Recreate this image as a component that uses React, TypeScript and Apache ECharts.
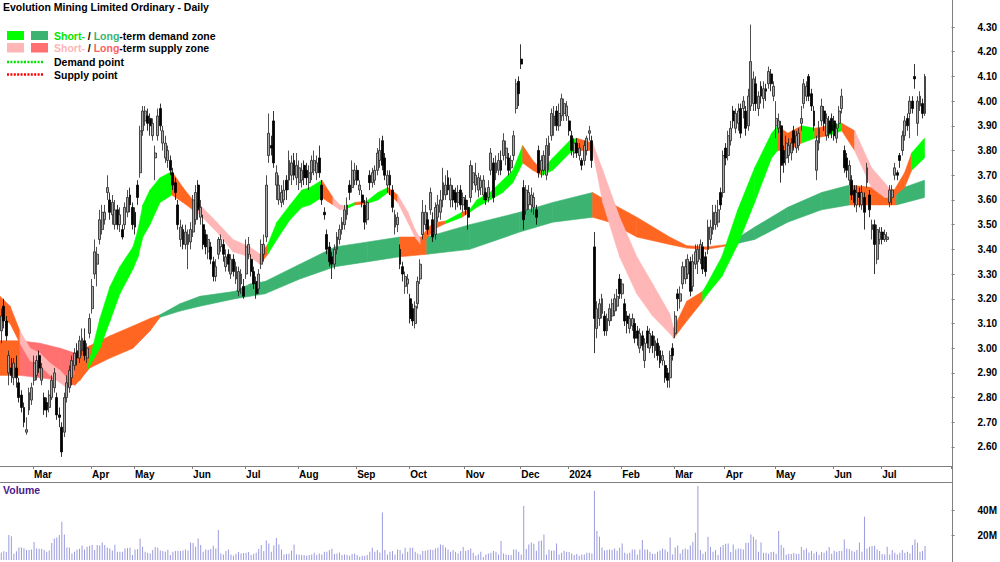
import React, { useEffect, useRef } from 'react';
import * as echarts from 'echarts';

// ---------- categories ----------
const monthNames = ['Feb', 'Mar', 'Apr', 'May', 'Jun', 'Jul', 'Aug', 'Sep', 'Oct', 'Nov', 'Dec', 'Jan', 'Feb', 'Mar', 'Apr', 'May', 'Jun', 'Jul'];
const monthYears = [2023, 2023, 2023, 2023, 2023, 2023, 2023, 2023, 2023, 2023, 2023, 2024, 2024, 2024, 2024, 2024, 2024, 2024];
const monthTradingDays = [13, 23, 17, 23, 21, 21, 23, 21, 22, 22, 19, 21, 21, 20, 20, 23, 19, 18];
const monthTickLabels = ['', 'Mar', 'Apr', 'May', 'Jun', 'Jul', 'Aug', 'Sep', 'Oct', 'Nov', 'Dec', '2024', 'Feb', 'Mar', 'Apr', 'May', 'Jun', 'Jul'];
const EMPTY_SLOTS = 10;

// ---------- axis ranges / tick labels ----------
const PRICE_MIN = 2.5;
const PRICE_MAX = 4.4;
const priceTicks = [2.6, 2.7, 2.8, 2.9, 3.0, 3.1, 3.2, 3.3, 3.4, 3.5, 3.6, 3.7, 3.8, 3.9, 4.0, 4.1, 4.2, 4.3];
const VOLUME_MAX = 60;
const volumeTicks = [20, 40];

// ---------- daily OHLC [open, close, low, high] ----------
const ohlc = [
  [3.07,3.13,3.02,3.16],[3.17,3.11,3.08,3.20],[3.11,3.05,3.03,3.13],[2.90,2.97,2.85,2.99],[2.92,2.89,2.86,2.96],
  [2.88,2.94,2.85,2.96],[2.92,2.88,2.84,2.97],[2.86,2.80,2.78,2.88],[2.81,2.76,2.74,2.83],[2.76,2.70,2.68,2.78],
  [2.66,2.67,2.65,2.72],[2.75,2.82,2.73,2.84],[2.79,2.84,2.77,2.86],[2.87,2.94,2.85,2.97],[2.89,2.95,2.87,2.97],
  [2.97,2.92,2.90,2.99],[2.87,2.92,2.85,2.94],[2.80,2.75,2.73,2.82],[2.78,2.75,2.72,2.80],[2.76,2.81,2.74,2.83],
  [2.80,2.87,2.79,2.89],[2.84,2.90,2.82,2.92],[2.80,2.73,2.71,2.82],[2.73,2.72,2.68,2.76],[2.68,2.58,2.56,2.70],
  [2.66,2.80,2.64,2.82],[2.80,2.86,2.78,2.89],[2.84,2.91,2.82,2.93],[2.88,2.95,2.85,2.97],[2.93,2.98,2.91,3.00],
  [2.99,2.96,2.93,3.02],[2.96,3.03,2.94,3.05],[2.99,3.04,2.97,3.08],[3.03,2.97,2.95,3.08],[2.96,3.00,2.94,3.02],
  [3.06,3.12,3.04,3.14],[3.16,3.25,3.14,3.28],[3.30,3.39,3.28,3.44],[3.34,3.38,3.25,3.41],[3.44,3.52,3.42,3.56],
  [3.48,3.55,3.46,3.58],[3.52,3.55,3.50,3.58],[3.63,3.65,3.60,3.70],[3.60,3.55,3.52,3.63],[3.54,3.59,3.50,3.62],
  [3.50,3.56,3.48,3.60],[3.56,3.50,3.48,3.58],[3.50,3.54,3.47,3.57],[3.48,3.45,3.44,3.50],[3.50,3.57,3.48,3.59],
  [3.55,3.61,3.53,3.64],[3.62,3.58,3.55,3.65],[3.57,3.50,3.48,3.59],[3.55,3.49,3.46,3.57],[3.66,3.61,3.58,3.68],
  [3.71,3.88,3.69,3.90],[3.88,3.96,3.86,3.98],[3.92,3.96,3.90,3.98],[3.94,3.91,3.88,3.97],[3.93,3.90,3.86,3.95],
  [3.86,3.91,3.84,3.93],[3.77,3.79,3.68,3.82],[3.86,3.94,3.84,3.97],[3.97,3.90,3.88,3.99],[3.83,3.88,3.80,3.90],
  [3.77,3.83,3.75,3.86],[3.76,3.80,3.73,3.82],[3.76,3.72,3.70,3.78],[3.71,3.66,3.64,3.73],[3.67,3.63,3.60,3.69],
  [3.58,3.50,3.48,3.60],[3.44,3.49,3.41,3.52],[3.48,3.42,3.40,3.50],[3.42,3.47,3.40,3.50],[3.42,3.46,3.32,3.48],
  [3.43,3.48,3.40,3.51],[3.47,3.60,3.45,3.62],[3.52,3.63,3.50,3.66],[3.66,3.56,3.52,3.68],[3.53,3.57,3.50,3.60],
  [3.50,3.42,3.40,3.54],[3.46,3.41,3.38,3.48],[3.39,3.44,3.36,3.46],[3.41,3.36,3.34,3.43],[3.35,3.29,3.27,3.37],
  [3.29,3.33,3.27,3.36],[3.38,3.44,3.36,3.45],[3.41,3.44,3.39,3.46],[3.42,3.38,3.35,3.44],[3.33,3.37,3.31,3.40],
  [3.38,3.34,3.31,3.40],[3.30,3.36,3.28,3.38],[3.36,3.31,3.29,3.38],[3.28,3.33,3.26,3.35],[3.23,3.31,3.21,3.33],
  [3.26,3.30,3.22,3.32],[3.25,3.21,3.20,3.28],[3.30,3.41,3.28,3.44],[3.38,3.42,3.36,3.45],[3.36,3.31,3.29,3.38],
  [3.31,3.26,3.24,3.33],[3.27,3.22,3.20,3.29],[3.24,3.30,3.22,3.32],[3.34,3.42,3.32,3.44],[3.38,3.42,3.35,3.46],
  [3.45,3.66,3.43,3.70],[3.78,3.87,3.75,3.95],[3.82,3.81,3.78,3.86],[3.92,3.75,3.73,3.96],[3.66,3.71,3.60,3.74],
  [3.60,3.66,3.58,3.70],[3.59,3.63,3.57,3.66],[3.60,3.64,3.58,3.68],[3.68,3.64,3.60,3.70],[3.68,3.76,3.64,3.80],
  [3.70,3.75,3.66,3.78],[3.76,3.70,3.68,3.79],[3.69,3.74,3.66,3.79],[3.67,3.73,3.64,3.76],[3.68,3.72,3.65,3.75],
  [3.74,3.69,3.66,3.76],[3.72,3.69,3.66,3.75],[3.67,3.71,3.64,3.74],[3.71,3.76,3.68,3.78],[3.72,3.76,3.70,3.80],
  [3.71,3.75,3.68,3.78],[3.77,3.71,3.69,3.82],[3.66,3.60,3.58,3.68],[3.55,3.54,3.52,3.57],[3.46,3.40,3.38,3.48],
  [3.41,3.35,3.33,3.43],[3.37,3.34,3.28,3.39],[3.34,3.40,3.32,3.42],[3.40,3.45,3.38,3.47],[3.44,3.48,3.42,3.50],
  [3.48,3.51,3.46,3.53],[3.50,3.56,3.48,3.58],[3.54,3.58,3.52,3.61],[3.66,3.63,3.60,3.68],[3.65,3.72,3.63,3.76],
  [3.68,3.72,3.66,3.75],[3.72,3.68,3.66,3.74],[3.64,3.66,3.62,3.68],[3.62,3.59,3.57,3.64],[3.58,3.51,3.48,3.60],
  [3.52,3.59,3.50,3.61],[3.70,3.67,3.64,3.72],[3.67,3.71,3.65,3.73],[3.68,3.72,3.66,3.74],[3.72,3.79,3.70,3.81],
  [3.76,3.80,3.73,3.85],[3.84,3.74,3.72,3.86],[3.77,3.70,3.68,3.79],[3.66,3.70,3.63,3.72],[3.70,3.66,3.62,3.72],
  [3.64,3.57,3.55,3.66],[3.49,3.54,3.46,3.56],[3.50,3.53,3.47,3.55],[3.40,3.34,3.32,3.42],[3.33,3.30,3.27,3.35],
  [3.25,3.29,3.22,3.31],[3.26,3.28,3.22,3.30],[3.20,3.12,3.10,3.22],[3.16,3.11,3.09,3.18],[3.10,3.17,3.08,3.19],
  [3.18,3.27,3.16,3.29],[3.28,3.34,3.26,3.36],[3.46,3.55,3.44,3.60],[3.50,3.55,3.48,3.58],[3.52,3.48,3.46,3.55],
  [3.56,3.63,3.54,3.65],[3.52,3.45,3.43,3.55],[3.46,3.57,3.44,3.59],[3.53,3.58,3.51,3.62],[3.55,3.60,3.52,3.64],
  [3.60,3.67,3.57,3.73],[3.62,3.66,3.60,3.70],[3.69,3.64,3.62,3.72],[3.60,3.66,3.57,3.69],[3.64,3.60,3.57,3.66],
  [3.63,3.59,3.56,3.65],[3.59,3.63,3.57,3.66],[3.64,3.58,3.56,3.66],[3.58,3.61,3.55,3.63],[3.60,3.56,3.54,3.62],
  [3.57,3.53,3.48,3.60],[3.61,3.74,3.59,3.76],[3.67,3.71,3.64,3.74],[3.66,3.70,3.63,3.75],[3.64,3.69,3.61,3.71],
  [3.65,3.68,3.62,3.70],[3.62,3.68,3.60,3.70],[3.63,3.60,3.58,3.65],[3.61,3.65,3.59,3.68],[3.72,3.79,3.70,3.81],
  [3.75,3.61,3.59,3.77],[3.71,3.75,3.68,3.78],[3.72,3.76,3.70,3.79],[3.76,3.72,3.70,3.80],[3.78,3.84,3.76,3.87],
  [3.77,3.81,3.74,3.84],[3.77,3.72,3.70,3.79],[3.73,3.76,3.71,3.78],[3.78,3.86,3.76,3.88],[3.97,4.07,3.95,4.09],
  [4.08,4.03,3.98,4.10],[4.17,4.15,4.13,4.23],[3.65,3.52,3.48,3.68],[3.56,3.64,3.54,3.66],[3.58,3.63,3.56,3.66],
  [3.58,3.62,3.55,3.65],[3.57,3.61,3.54,3.63],[3.56,3.53,3.50,3.58],[3.80,3.71,3.69,3.82],[3.72,3.76,3.69,3.78],
  [3.72,3.78,3.70,3.80],[3.70,3.82,3.68,3.85],[3.78,3.83,3.72,3.86],[3.86,3.95,3.84,3.97],[3.90,3.94,3.86,3.98],
  [3.96,3.90,3.88,3.98],[3.90,3.95,3.88,3.99],[3.94,4.01,3.92,4.03],[3.95,3.99,3.92,4.01],[3.94,3.98,3.92,4.00],
  [3.92,3.88,3.86,3.94],[3.86,3.80,3.78,3.88],[3.79,3.83,3.77,3.85],[3.83,3.79,3.77,3.85],[3.78,3.81,3.76,3.83],
  [3.76,3.74,3.72,3.77],[3.76,3.82,3.74,3.84],[3.80,3.85,3.78,3.86],[3.87,3.88,3.84,3.90],[3.84,3.76,3.73,3.86],
  [3.41,3.12,2.98,3.47],[3.08,3.16,3.04,3.19],[3.12,3.18,3.09,3.20],[3.14,3.20,3.12,3.22],[3.13,3.07,3.05,3.15],
  [3.07,3.12,3.05,3.14],[3.11,3.16,3.09,3.18],[3.13,3.18,3.11,3.20],[3.15,3.20,3.13,3.22],[3.17,3.21,3.15,3.24],
  [3.28,3.22,3.20,3.30],[3.22,3.26,3.20,3.28],[3.18,3.11,3.09,3.20],[3.13,3.10,3.06,3.15],[3.08,3.12,3.06,3.14],
  [3.09,3.12,3.07,3.14],[3.10,3.04,3.02,3.12],[3.07,3.04,3.01,3.09],[3.00,3.06,2.98,3.08],[3.05,3.01,2.99,3.07],
  [2.95,3.02,2.92,3.04],[3.07,3.02,3.00,3.09],[3.00,3.06,2.98,3.08],[3.05,3.01,2.98,3.07],[2.99,3.03,2.96,3.05],
  [3.02,2.97,2.95,3.04],[2.99,2.94,2.92,3.01],[2.95,2.97,2.93,2.99],[2.93,2.88,2.86,2.95],[2.90,2.87,2.84,2.92],
  [2.88,2.97,2.84,2.99],[3.00,2.97,2.95,3.02],[3.06,3.13,3.04,3.15],[3.22,3.20,3.15,3.24],[3.19,3.22,3.16,3.25],
  [3.26,3.33,3.24,3.35],[3.28,3.33,3.26,3.36],[3.30,3.36,3.28,3.38],[3.35,3.23,3.21,3.37],[3.25,3.35,3.23,3.38],
  [3.34,3.39,3.32,3.42],[3.35,3.40,3.30,3.42],[3.36,3.42,3.34,3.44],[3.41,3.32,3.30,3.43],[3.37,3.31,3.29,3.39],
  [3.40,3.49,3.38,3.52],[3.44,3.49,3.42,3.52],[3.48,3.55,3.46,3.58],[3.50,3.55,3.48,3.58],[3.51,3.56,3.49,3.60],
  [3.63,3.58,3.56,3.65],[3.63,3.78,3.61,3.80],[3.81,3.77,3.74,3.83],[3.78,3.86,3.76,3.88],[3.84,3.89,3.82,3.92],
  [3.96,3.92,3.89,3.98],[3.89,3.95,3.87,3.97],[3.91,3.96,3.88,3.99],[3.97,3.87,3.85,3.99],[3.97,4.00,3.93,4.02],
  [3.96,3.89,3.86,3.98],[3.90,4.02,3.88,4.05],[3.98,4.16,3.96,4.31],[3.99,4.09,3.96,4.12],[4.07,3.99,3.96,4.10],
  [3.97,4.02,3.94,4.04],[4.06,4.02,3.99,4.08],[4.01,4.05,3.97,4.08],[4.05,4.04,4.00,4.07],[4.07,4.12,4.05,4.14],
  [4.11,4.07,4.04,4.13],[4.02,4.06,4.00,4.08],[3.90,3.93,3.85,4.00],[3.89,3.92,3.87,3.95],[3.90,3.74,3.67,3.92],
  [3.80,3.75,3.71,3.82],[3.77,3.83,3.74,3.86],[3.78,3.82,3.75,3.85],[3.79,3.83,3.76,3.85],[3.88,3.83,3.80,3.90],
  [3.81,3.86,3.79,3.88],[3.82,3.87,3.80,3.89],[3.91,3.93,3.88,3.98],[3.99,4.07,3.97,4.09],[4.02,4.06,4.00,4.08],
  [4.10,4.02,4.00,4.11],[4.03,3.98,3.96,4.05],[3.96,3.90,3.88,3.98],[3.72,3.84,3.68,3.86],[3.83,3.89,3.80,3.92],
  [3.92,3.98,3.90,4.01],[3.96,3.91,3.88,3.98],[3.86,3.93,3.84,3.95],[3.92,3.87,3.85,3.94],[3.93,3.88,3.85,3.95],
  [3.92,3.86,3.84,3.94],[3.85,3.89,3.83,3.91],[3.91,3.96,3.89,3.98],[3.97,4.02,3.95,4.05],[3.80,3.73,3.71,3.82],
  [3.77,3.72,3.69,3.79],[3.68,3.74,3.66,3.76],[3.68,3.62,3.60,3.70],[3.64,3.59,3.57,3.66],[3.58,3.63,3.55,3.66],
  [3.63,3.61,3.57,3.65],[3.58,3.63,3.56,3.66],[3.61,3.55,3.48,3.63],[3.67,3.73,3.65,3.75],[3.62,3.56,3.53,3.64],
  [3.48,3.50,3.44,3.52],[3.50,3.42,3.30,3.52],[3.36,3.48,3.34,3.50],[3.44,3.47,3.42,3.49],[3.47,3.44,3.42,3.49],
  [3.44,3.46,3.43,3.48],[3.44,3.45,3.43,3.47],[3.59,3.64,3.57,3.66],[3.61,3.64,3.58,3.66],[3.70,3.73,3.68,3.75],
  [3.71,3.70,3.68,3.72],[3.78,3.76,3.73,3.79],[3.80,3.86,3.78,3.88],[3.86,3.92,3.84,3.94],[3.93,3.90,3.88,3.95],
  [3.95,4.00,3.85,4.02],[4.00,3.97,3.95,4.02],[4.10,4.09,4.05,4.15],[3.91,4.00,3.86,4.02],[3.98,4.02,3.96,4.04],
  [3.99,3.95,3.93,4.01],[3.95,4.10,3.94,4.11],
];

// ---------- daily volume (millions) ----------
const volumeM = [
  6,7,6.5,20,19,5,7,10,10,9.5,
  8,8,8.5,14.5,9.3,9,9,8,6.7,7.7,
  13.6,17.3,18,20,30.7,20.5,10,10,5.3,6.7,
  8.5,9,11.7,8.5,10.7,11.5,12,8,12,11.7,
  14,12,10,9.3,7.7,12.3,6.7,6.7,6.7,9.3,
  9.6,10,4,8.5,8.8,17.3,10.7,6.7,5.9,5.3,
  8,10.4,9.9,7.7,7.2,6.7,8.3,4,6.7,7.2,
  7.5,7.2,7.7,8.5,7.7,14,13.6,10.7,17.3,12,
  6.7,8.5,8,8.8,11.5,9.3,24,5.3,4.5,7.2,
  8.5,4.5,3.5,5,6.4,5.3,5.6,5.9,6.4,4,
  5,5.9,8.8,12,7.2,15.7,13.3,6.7,11.7,17.6,
  12.5,8.5,4.5,4.8,5,7.7,12.5,4.5,4.5,4,
  4,3.5,4,4.5,5.9,4,5.3,4.5,6.7,6.7,
  8,9,4.8,5.3,6.1,4,4.5,4,3.5,4.8,
  5.3,4,2.7,3.5,3.5,4,6.7,9.9,6.7,8,
  6.1,38,8,4.5,6.7,7.2,4.5,8.5,8,5,
  9.9,6.7,9.9,9.9,6.7,5.3,4.5,7.2,7.5,8,
  8.5,8,9.3,9.9,12.5,12,10,8.5,6.7,8,
  6.7,5.3,7.2,10.4,7.2,8,9.3,5.9,3.5,4.5,
  6.7,2.4,4.5,5.3,5.9,7.2,6.7,4.5,
  15.2,5.3,4.5,4,4,8.5,8.5,6.7,4.5,43.2,
  8.8,12.5,14.1,13.1,7.5,15.2,15.7,20.5,4.5,8.3,
  7.5,7.7,13.3,4.5,5.9,7.5,6.7,6.4,5.3,4,
  4.8,3.5,4.5,4.5,5.9,5.9,5.3,55.5,23.2,18.7,
  10.1,7.7,8,8.5,8,9.3,7.5,9.9,13.3,5.9,
  5.1,5.9,8.5,8.5,4.5,8.5,16,8.5,8.5,6.7,
  5.1,5.1,6.7,7.7,9.3,8.5,6.7,18.1,4.5,10.1,
  11.7,5.3,8.5,9.3,8.5,11.7,14.7,21.9,59.2,8,
  5.1,6.7,18.7,10.4,6.7,8,4,10.4,12,13.1,
  13.3,6.4,12.5,8.5,9.3,9.1,8.5,13.9,13.9,20.5,
  18.7,16.5,6.7,14.1,5.9,5.9,5.1,6.4,6.7,5.1,
  23.2,12,9.9,4.3,5.1,4.8,5.6,4.8,5.1,10.4,
  8,9.3,6.1,7.2,5.3,6.7,4.3,6.4,5.9,7.5,
  10.4,5.1,7.5,6.7,7.2,7.2,16.5,9.3,8.8,7.5,
  6.7,8,14.1,6.7,34.7,9.3,10.7,11.2,11.5,8.5,
  7.2,4.8,4.5,10.7,4.5,8,5.9,4.5,5.9,8,
  5.9,6.7,5.3,12,16.5,13.9,6.7,7.2,11.2,
];

// ---------- zones: [day position, lower, upper, colour code of the following segment] ----------
// D = long-term demand, S = long-term supply, G = short-term demand, P = short-term supply, O = conflict (orange)
const longTermZone: [number, number, number, string][] = [
  [-0.5, 2.89, 3.03, 'O'], [7.4, 2.89, 3.03, 'S'], [15.3, 2.88, 3.02, 'S'], [23.3, 2.87, 3.0, 'S'],
  [29.2, 2.85, 2.98, 'O'], [35.1, 2.92, 3.01, 'O'], [43.1, 2.96, 3.05, 'O'], [52.2, 3.0, 3.09, 'O'],
  [58.9, 3.07, 3.12, 'O'], [62.9, 3.125, 3.135, 'D'], [70.8, 3.15, 3.18, 'D'], [78.7, 3.17, 3.21, 'D'],
  [92.6, 3.2, 3.23, 'D'], [98.5, 3.21, 3.26, 'D'], [104.5, 3.22, 3.27, 'D'], [118.3, 3.28, 3.34, 'D'],
  [132.2, 3.33, 3.41, 'D'], [145.2, 3.35, 3.43, 'D'], [157.9, 3.37, 3.45, 'O'], [168.6, 3.38, 3.45, 'D'],
  [185.6, 3.4, 3.5, 'D'], [205.4, 3.47, 3.55, 'D'], [218.5, 3.51, 3.59, 'D'], [234.3, 3.53, 3.63, 'O'],
  [241.1, 3.51, 3.59, 'O'], [251.8, 3.45, 3.53, 'O'], [264.8, 3.42, 3.45, 'O'], [271.6, 3.405, 3.415, 'O'],
  [279.5, 3.4, 3.41, 'O'], [287.8, 3.415, 3.42, 'D'], [298.5, 3.44, 3.49, 'D'], [311.6, 3.51, 3.57, 'D'],
  [325.0, 3.56, 3.63, 'D'], [336.1, 3.58, 3.66, 'O'], [354.7, 3.58, 3.64, 'D'], [365.8, 3.61, 3.68, 'D'],
];

const shortTermZone: [number, number, number, string][] = [
  [-0.5, 3.13, 3.21, 'O'], [3.5, 3.1, 3.17, 'O'], [7.4, 3.02, 3.07, 'P'], [11.4, 2.95, 3.0, 'P'],
  [15.3, 2.93, 2.98, 'P'], [19.3, 2.89, 2.94, 'P'], [23.3, 2.86, 2.91, 'P'], [26.0, 2.84, 2.88, 'O'],
  [31.2, 2.87, 2.9, 'O'], [34.3, 2.915, 2.925, 'G'], [39.1, 3.0, 3.12, 'G'], [43.1, 3.11, 3.25, 'G'],
  [47.0, 3.22, 3.33, 'G'], [52.2, 3.32, 3.41, 'G'], [54.2, 3.37, 3.48, 'G'], [56.1, 3.45, 3.58, 'G'],
  [58.9, 3.5, 3.64, 'G'], [62.9, 3.59, 3.69, 'G'], [67.6, 3.62, 3.715, 'O'], [72.0, 3.59, 3.65, 'O'],
  [75.9, 3.56, 3.6, 'P'], [78.7, 3.54, 3.58, 'P'], [85.4, 3.47, 3.51, 'P'], [91.8, 3.39, 3.44, 'P'],
  [98.5, 3.37, 3.41, 'P'], [102.5, 3.34, 3.38, 'O'], [105.6, 3.38, 3.42, 'G'], [109.2, 3.44, 3.51, 'G'],
  [114.4, 3.52, 3.58, 'G'], [119.1, 3.57, 3.64, 'G'], [122.3, 3.58, 3.65, 'G'], [127.0, 3.61, 3.68, 'O'],
  [131.4, 3.58, 3.61, 'P'], [134.2, 3.56, 3.58, 'P'], [136.9, 3.565, 3.575, 'G'], [140.1, 3.58, 3.59, 'O'],
  [144.8, 3.585, 3.595, 'G'], [149.2, 3.6, 3.63, 'G'], [153.2, 3.63, 3.65, 'O'], [157.1, 3.59, 3.62, 'P'],
  [161.1, 3.51, 3.55, 'P'], [163.9, 3.45, 3.48, 'P'], [166.2, 3.42, 3.44, 'O'], [169.0, 3.45, 3.49, 'O'],
  [173.0, 3.49, 3.51, 'O'], [176.1, 3.505, 3.515, 'G'], [182.5, 3.53, 3.55, 'O'], [185.6, 3.55, 3.56, 'G'],
  [188.4, 3.57, 3.6, 'G'], [193.6, 3.6, 3.63, 'G'], [198.7, 3.63, 3.68, 'G'], [202.7, 3.67, 3.72, 'G'],
  [206.6, 3.75, 3.82, 'O'], [210.6, 3.72, 3.76, 'O'], [214.2, 3.7, 3.72, 'G'], [218.5, 3.72, 3.77, 'G'],
  [225.2, 3.79, 3.84, 'G'], [228.0, 3.8, 3.85, 'O'], [234.3, 3.8, 3.83, 'P'], [238.3, 3.59, 3.72, 'P'],
  [245.0, 3.37, 3.53, 'P'], [251.8, 3.22, 3.37, 'P'], [258.1, 3.13, 3.26, 'P'], [264.8, 3.06, 3.14, 'P'],
  [266.4, 3.04, 3.08, 'O'], [271.6, 3.11, 3.19, 'O'], [277.9, 3.19, 3.23, 'G'], [279.1, 3.21, 3.25, 'G'],
  [285.5, 3.29, 3.37, 'G'], [291.8, 3.42, 3.56, 'G'], [298.5, 3.59, 3.73, 'G'], [305.2, 3.77, 3.87, 'G'],
  [307.6, 3.8, 3.9, 'O'], [311.6, 3.8, 3.87, 'O'], [317.1, 3.83, 3.9, 'G'], [322.3, 3.85, 3.89, 'O'],
  [327.4, 3.86, 3.9, 'G'], [333.0, 3.88, 3.91, 'O'], [338.1, 3.8, 3.88, 'P'], [344.8, 3.65, 3.73, 'P'],
  [350.0, 3.61, 3.67, 'P'], [353.2, 3.61, 3.63, 'O'], [357.9, 3.65, 3.71, 'O'], [360.7, 3.72, 3.79, 'G'],
  [365.8, 3.77, 3.85, 'G'],
];

const zoneCodes = ['D', 'S', 'G', 'P', 'O'];
const zoneColors = ['#3cb371', '#ff7070', '#00ff00', '#ffb6b6', '#ff6622'];

const FONT = '"Liberation Sans", Arial, sans-serif';

function buildCategories() {
  const cats: string[] = [];
  const starts: Record<number, string> = {};
  monthNames.forEach((m, k) => {
    if (monthTickLabels[k]) starts[cats.length] = monthTickLabels[k];
    for (let d = 0; d < monthTradingDays[k]; d++) cats.push(`${m} ${monthYears[k]} #${d + 1}`);
  });
  for (let e = 0; e < EMPTY_SLOTS; e++) cats.push(`pad${e}`);
  return { cats, starts };
}

function zoneSegments(zone: [number, number, number, string][]) {
  const out: number[][] = [];
  for (let k = 0; k < zone.length - 1; k++) {
    const a = zone[k];
    const b = zone[k + 1];
    out.push([a[0], a[1], a[2], b[0], b[1], b[2], zoneCodes.indexOf(a[3])]);
  }
  return out;
}

const renderZone = (_params: any, api: any) => {
  const x0 = api.value(0), lo0 = api.value(1), hi0 = api.value(2);
  const x1 = api.value(3), lo1 = api.value(4), hi1 = api.value(5);
  const fill = zoneColors[api.value(6)];
  const p1 = api.coord([x0, lo0]);
  const p2 = api.coord([x1, lo1]);
  const p3 = api.coord([x1, hi1]);
  const p4 = api.coord([x0, hi0]);
  return {
    type: 'polygon',
    shape: { points: [p1, p2, p3, p4] },
    style: { fill, stroke: fill, lineWidth: 0.6 },
  };
};

export default function App() {
  const ref = useRef<HTMLDivElement>(null);

  useEffect(() => {
    if (!ref.current) return;
    const chart = echarts.init(ref.current, undefined, { renderer: 'svg' });
    const { cats, starts } = buildCategories();
    const N = cats.length;
    const isStart = (idx: number) => starts[idx] !== undefined;

    const legendText = (style: any) => ({
      fontSize: 10.5, fontWeight: 'bold', fontFamily: FONT, ...style,
    });
    const axisFont = { fontSize: 10, fontWeight: 'bold', color: '#000', fontFamily: FONT };

    // price panel: 4.40 at y≈2.3, 2.50 at y≈471.7; the date axis line sits at y≈466
    const priceTop = 2.3;
    const priceHeight = 469.4;
    const dateAxisOffset = -(priceTop + priceHeight - 466);

    const option: any = {
      animation: false,
      backgroundColor: '#ffffff',
      textStyle: { fontFamily: FONT },
      grid: [
        { left: 0, right: 48, top: priceTop, height: priceHeight },
        { left: 0, right: 48, top: 485, height: 75 },
      ],
      xAxis: [
        {
          type: 'category', gridIndex: 0, data: cats, boundaryGap: true, offset: dateAxisOffset,
          axisLine: { show: true, onZero: false, lineStyle: { color: '#7f7f7f', width: 1 } },
          axisTick: { show: true, interval: (i: number) => isStart(i), length: 3, lineStyle: { color: '#7f7f7f' } },
          axisLabel: {
            show: true, interval: (i: number) => isStart(i),
            formatter: (_v: string, i: number) => starts[i] ?? '',
            align: 'left', margin: 3, hideOverlap: false, ...axisFont,
          },
          splitLine: { show: false },
        },
        { type: 'value', gridIndex: 0, min: -0.5, max: N - 0.5, show: false, axisLine: { onZero: false } },
        {
          type: 'category', gridIndex: 1, data: cats, boundaryGap: true, position: 'top', offset: 3,
          axisLine: { show: true, onZero: false, lineStyle: { color: '#7f7f7f', width: 1 } },
          axisTick: { show: false }, axisLabel: { show: false }, splitLine: { show: false },
        },
      ],
      yAxis: [
        {
          type: 'value', gridIndex: 0, position: 'right', min: PRICE_MIN, max: PRICE_MAX,
          axisLine: { show: false, onZero: false },
          axisTick: { show: true, customValues: priceTicks, length: 3, lineStyle: { color: '#7f7f7f' } },
          axisLabel: {
            customValues: priceTicks, formatter: (v: number) => v.toFixed(2), margin: 26, ...axisFont,
          },
          splitLine: { show: false },
        },
        {
          type: 'value', gridIndex: 1, position: 'right', min: 0, max: VOLUME_MAX,
          axisLine: { show: false, onZero: false },
          axisTick: { show: true, customValues: volumeTicks, length: 3, lineStyle: { color: '#7f7f7f' } },
          axisLabel: {
            customValues: volumeTicks, formatter: (v: number) => `${Math.round(v)}M`, margin: 26, ...axisFont,
          },
          splitLine: { show: false },
        },
      ],
      series: [
        {
          type: 'custom', name: 'Long-term zone', xAxisIndex: 1, yAxisIndex: 0,
          renderItem: renderZone, data: zoneSegments(longTermZone), silent: true, z: 1,
        },
        {
          type: 'custom', name: 'Short-term zone', xAxisIndex: 1, yAxisIndex: 0,
          renderItem: renderZone, data: zoneSegments(shortTermZone), silent: true, z: 2,
        },
        {
          type: 'candlestick', name: 'Price', xAxisIndex: 0, yAxisIndex: 0, data: ohlc,
          barWidth: 2.4, z: 3,
          itemStyle: { color: '#a8a8a8', color0: '#000000', borderColor: '#222222', borderColor0: '#000000', borderWidth: 0.8 },
        },
        {
          type: 'bar', name: 'Volume', xAxisIndex: 2, yAxisIndex: 1, data: volumeM,
          barWidth: 1, itemStyle: { color: '#9a9ade' }, silent: true,
        },
      ],
      graphic: [
        { type: 'line', shape: { x1: 952.5, y1: 0, x2: 952.5, y2: 562 }, style: { stroke: '#7f7f7f', lineWidth: 1 }, z: 10 },
        {
          type: 'text', left: 3, top: 1,
          style: { text: 'Evolution Mining Limited Ordinary - Daily', fill: '#000', ...legendText({}) },
        },
        { type: 'rect', shape: { x: 7, y: 31, width: 17, height: 9 }, style: { fill: '#00ff00' } },
        { type: 'rect', shape: { x: 31, y: 31, width: 17, height: 9 }, style: { fill: '#3cb371' } },
        {
          type: 'text', x: 54, y: 35.5,
          style: {
            text: '{a|Short-}{k| / }{b|Long}{k|-term demand zone}', verticalAlign: 'middle',
            rich: {
              a: legendText({ fill: '#00e600' }), b: legendText({ fill: '#3cb371' }), k: legendText({ fill: '#000' }),
            },
          },
        },
        { type: 'rect', shape: { x: 7, y: 43, width: 17, height: 9.5 }, style: { fill: '#ffb6b6' } },
        { type: 'rect', shape: { x: 31, y: 43, width: 17, height: 9.5 }, style: { fill: '#ff7070' } },
        {
          type: 'text', x: 54, y: 48,
          style: {
            text: '{a|Short-}{k| / }{b|Long}{k|-term supply zone}', verticalAlign: 'middle',
            rich: {
              a: legendText({ fill: '#ffb6b6' }), b: legendText({ fill: '#ff6060' }), k: legendText({ fill: '#000' }),
            },
          },
        },
        { type: 'line', shape: { x1: 7, y1: 62, x2: 44, y2: 62 }, style: { stroke: '#00e600', lineWidth: 2.5, lineDash: [2, 1.4] } },
        { type: 'text', x: 54, y: 62, style: { text: 'Demand point', fill: '#000', verticalAlign: 'middle', ...legendText({}) } },
        { type: 'line', shape: { x1: 7, y1: 74.5, x2: 44, y2: 74.5 }, style: { stroke: '#ff0000', lineWidth: 2.5, lineDash: [2, 1.4] } },
        { type: 'text', x: 54, y: 74.5, style: { text: 'Supply point', fill: '#000', verticalAlign: 'middle', ...legendText({}) } },
        { type: 'text', x: 3, y: 490, style: { text: 'Volume', fill: '#4b1a8c', verticalAlign: 'middle', ...legendText({}) } },
      ],
    };

    chart.setOption(option);
    return () => chart.dispose();
  }, []);

  return <div ref={ref} style={{ position: 'fixed', left: 0, top: 0, width: 1000, height: 562 }} />;
}
